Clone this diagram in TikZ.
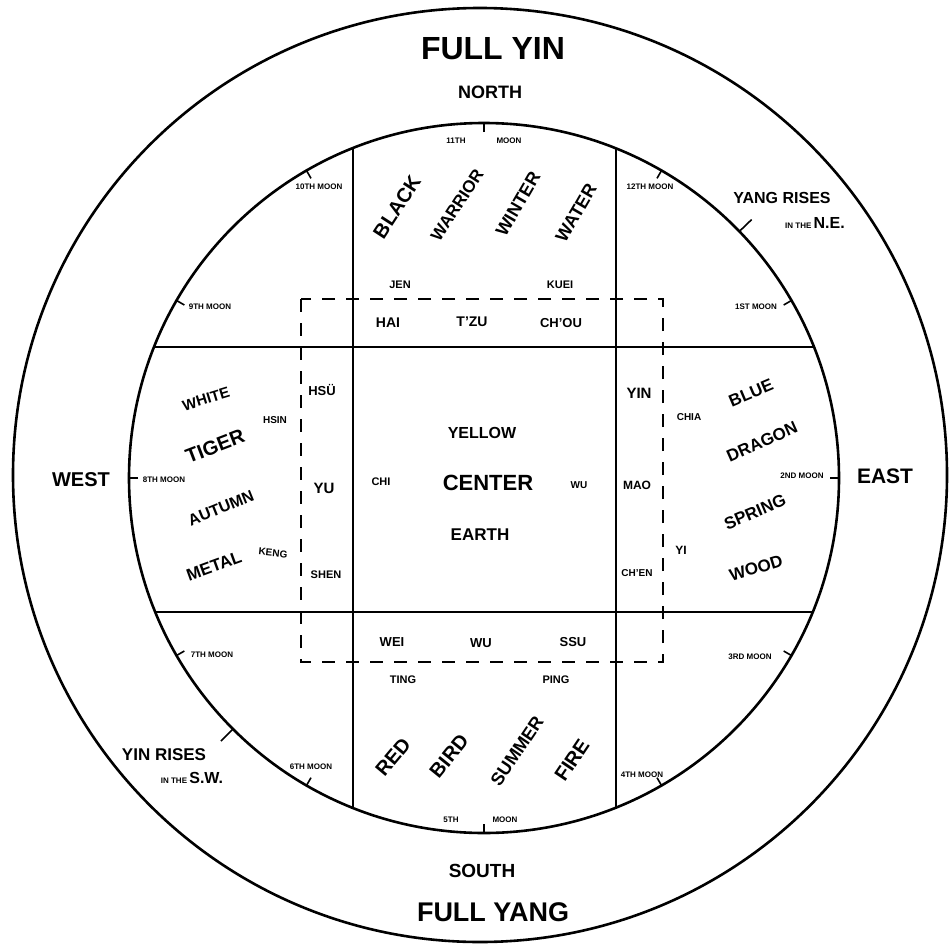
\documentclass[tikz,border=0pt]{standalone}
\usepackage{fontspec}
\setmainfont{Liberation Sans}
\newcommand\myfs[1]{\fontsize{#1}{#1}\selectfont}
\begin{document}
\begin{tikzpicture}[x=1pt,y=-1pt,
  t/.style={inner sep=0pt, font=\bfseries\myfs{#1}},
  circ/.style={line width=2.6pt},
  rule/.style={line width=2.3pt},
  dashbox/.style={line width=2.4pt, dash pattern=on 13pt off 11pt},
  tick/.style={line width=1.6pt}]
\useasboundingbox (0,0) rectangle (949,947);
% circles
\draw[circ] (480,475) circle [radius=467pt];
\draw[circ] (484,478) circle [radius=355pt];
% cross lines
\draw[rule] (353,148) -- (353,808);
\draw[rule] (616,148.5) -- (616,807.5);
\draw[rule] (154,347) -- (814,347);
\draw[rule] (155,612) -- (813,612);
% dashed central square
\draw[dashbox] (301,299) rectangle (663,662);
% moon ticks
\foreach \a in {0,30,...,330}
  \draw[tick] ({484+346*cos(\a)},{478-346*sin(\a)}) -- ({484+356*cos(\a)},{478-356*sin(\a)});
% rises ticks
\draw[tick] ({484+355*cos(44)},{478-355*sin(44)}) -- ({484+372*cos(44)},{478-372*sin(44)});
\draw[tick] ({484+356*cos(225)},{478-356*sin(225)}) -- ({484+372*cos(225)},{478-372*sin(225)});
% outer labels
\node[t=32] (fullyin) at (493,49) {FULL YIN};
\node[t=18] (north) at (490,92) {NORTH};
\node[t=19] (south) at (482,871) {SOUTH};
\node[t=27] (fullyang) at (493,912) {FULL YANG};
\node[t=20] (west) at (81,480) {WEST};
\node[t=21] (east) at (885,476) {EAST};
\node[t=16] (yangrises) at (782,198) {YANG RISES};
\node[t=16] (ne) at (815,223) {\myfs{8}IN THE \myfs{16}N.E.};
\node[t=17] (yinrises) at (164,755) {YIN RISES};
\node[t=16] (sw) at (192,778) {\myfs{8}IN THE \myfs{16}S.W.};
% moons
\node[t=8] (m11a) at (456,141) {11TH};
\node[t=8] (m11b) at (509,141) {MOON};
\node[t=8] (m10) at (319,187) {10TH MOON};
\node[t=8] (m12) at (650,187) {12TH MOON};
\node[t=8] (m9) at (210,307) {9TH MOON};
\node[t=8] (m1) at (756,307) {1ST MOON};
\node[t=8] (m8) at (164,480) {8TH MOON};
\node[t=8] (m2) at (802,476) {2ND MOON};
\node[t=8] (m7) at (212,655) {7TH MOON};
\node[t=8] (m3) at (750,657) {3RD MOON};
\node[t=8] (m6) at (311,767) {6TH MOON};
\node[t=8] (m4) at (642,775) {4TH MOON};
\node[t=8] (m5a) at (451,820) {5TH};
\node[t=8] (m5b) at (505,820) {MOON};
% north block
\node[t=20, rotate=57] (black) at (397,207) {BLACK};
\node[t=17, rotate=57] (warrior) at (457,205) {WARRIOR};
\node[t=18, rotate=60] (winter) at (518,204) {WINTER};
\node[t=18, rotate=60] (water) at (576,213) {WATER};
% south block
\node[t=20, rotate=50] (red) at (393,757) {RED};
\node[t=20, rotate=51] (bird) at (449,756) {BIRD};
\node[t=18, rotate=56] (summer) at (517,751) {SUMMER};
\node[t=20, rotate=56] (fire) at (572,760) {FIRE};
% west block
\node[t=15, rotate=17] (white) at (206,399) {WHITE};
\node[t=20, rotate=21] (tiger) at (215,446) {TIGER};
\node[t=16, rotate=22] (autumn) at (221,508) {AUTUMN};
\node[t=17, rotate=20] (metal) at (214,566) {METAL};
\node[t=10] (hsin) at (275,420) {HSIN};
\node[t=10, rotate=-6] (keng) at (273,553) {KENG};
% east block
\node[t=17, rotate=23] (blue) at (751,393) {BLUE};
\node[t=17, rotate=24] (dragon) at (762,442) {DRAGON};
\node[t=17, rotate=23] (spring) at (755,512) {SPRING};
\node[t=17, rotate=17] (wood) at (756,568) {WOOD};
\node[t=10] (chia) at (689,417) {CHIA};
\node[t=12] (yi) at (681,550) {YI};
% inner ring of branches
\node[t=11] (jen) at (400,285) {JEN};
\node[t=11] (kuei) at (560,285) {KUEI};
\node[t=14] (hai) at (388,323) {HAI};
\node[t=14] (tzu) at (472,322) {T'ZU};
\node[t=13] (chou) at (561,323) {CH'OU};
\node[t=13] (hsu) at (322,390) {HSÜ};
\node[t=15] (yu) at (324,488) {YU};
\node[t=11] (shen) at (326,575) {SHEN};
\node[t=15] (yin) at (639,393) {YIN};
\node[t=12] (mao) at (637,485) {MAO};
\node[t=10] (chen) at (637,573) {CH'EN};
\node[t=13] (wei) at (392,642) {WEI};
\node[t=13] (wu2) at (481,643) {WU};
\node[t=13] (ssu) at (573,642) {SSU};
\node[t=11] (ting) at (403,680) {TING};
\node[t=11] (ping) at (556,680) {PING};
% center
\node[t=16] (yellow) at (482,433) {YELLOW};
\node[t=22] (center) at (488,483) {CENTER};
\node[t=17] (earth) at (480,535) {EARTH};
\node[t=11] (chi) at (381,482) {CHI};
\node[t=10] (wu) at (579,485) {WU};
\end{tikzpicture}
\end{document}
